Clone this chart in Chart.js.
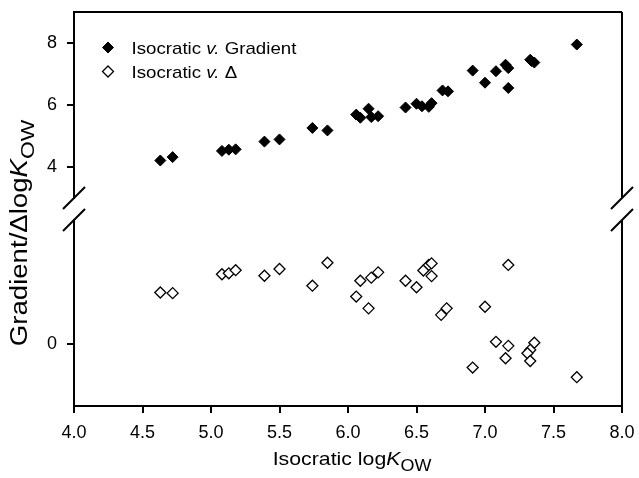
<!DOCTYPE html>
<html>
<head>
<meta charset="utf-8">
<script src="https://cdn.jsdelivr.net/npm/chart.js@4.4.0/dist/chart.umd.min.js"></script>
<style>
  html, body { margin: 0; padding: 0; background: #fff; }
  canvas { display: block; }
</style>
</head>
<body>
<canvas id="chart" width="639" height="478"></canvas>
<script>
// upper panel: isocratic log Kow vs. gradient log Kow
const gradientLogKow = [4.63, 4.72, 5.08, 5.13, 5.18, 5.39, 5.50, 5.74, 5.85, 6.06, 6.09,
  6.15, 6.17, 6.22, 6.42, 6.50, 6.54, 6.59, 6.61, 6.69, 6.73, 6.91, 7.00, 7.08, 7.15,
  7.17, 7.17, 7.33, 7.34, 7.36, 7.67];
const gradientValues = [4.21, 4.32, 4.52, 4.56, 4.57, 4.82, 4.89, 5.26, 5.18, 5.69, 5.59,
  5.88, 5.61, 5.64, 5.92, 6.04, 5.96, 5.94, 6.06, 6.47, 6.44, 7.11, 6.72, 7.09, 7.30,
  7.19, 6.55, 7.46, 7.42, 7.37, 7.95];

// lower panel: isocratic log Kow vs. delta log Kow
const deltaLogKow = [4.63, 4.72, 5.08, 5.13, 5.18, 5.39, 5.50, 5.74, 5.85, 6.06, 6.09,
  6.15, 6.17, 6.22, 6.42, 6.50, 6.55, 6.59, 6.61, 6.61, 6.68, 6.72, 6.91, 7.00, 7.08,
  7.15, 7.17, 7.17, 7.36, 7.33, 7.31, 7.33, 7.67];
const deltaValues = [1.66, 1.64, 2.25, 2.28, 2.38, 2.20, 2.42, 1.88, 2.62, 1.53, 2.04,
  1.15, 2.14, 2.31, 2.04, 1.83, 2.37, 2.55, 2.60, 2.19, 0.94, 1.15, -0.76, 1.20, 0.07,
  -0.46, 2.55, -0.06, 0.04, -0.19, -0.30, -0.55, -1.07];

const upperTicks = [4, 6, 8];
const lowerTicks = [0];

const FAMILY = "'Liberation Sans', Arial, Helvetica, sans-serif";
Chart.defaults.font.family = FAMILY;
Chart.defaults.color = "#000";

const toPoints = (xs, ys) => xs.map((x, i) => ({ x: x, y: ys[i] }));

const tickMarks = {
  drawOnChartArea: false,
  drawTicks: true,
  tickLength: 7,
  lineWidth: 2,
  color: "#000",
};
const axisLine = { display: true, width: 2, color: "#000" };
const tickFont = { size: 18 };

function fixWidth(scale) {
  scale.width = 74;
  scale.paddingTop = 0;
  scale.paddingBottom = 0;
}

// draws mixed-style text (italic K, subscripts), stretched a little to match the figure
function drawRuns(ctx, runs, x, y, align, stretch) {
  let total = 0;
  runs.forEach((r) => {
    ctx.font = r.font;
    r.w = ctx.measureText(r.text).width;
    total += r.w;
  });
  ctx.save();
  ctx.translate(x, y);
  ctx.scale(stretch || 1, 1);
  let cx = align === "center" ? -total / 2 : 0;
  runs.forEach((r) => {
    ctx.font = r.font;
    ctx.fillText(r.text, cx, r.dy || 0);
    cx += r.w;
  });
  ctx.restore();
}

// frame, axis breaks, axis titles and legend
const decorations = {
  id: "decorations",
  afterDraw(chart) {
    const ctx = chart.ctx;
    const area = chart.chartArea;
    const top = chart.scales.yUpper;
    const low = chart.scales.yLower;

    ctx.save();
    ctx.strokeStyle = "#000";
    ctx.lineWidth = 2;
    ctx.beginPath();
    ctx.moveTo(area.left - 1, area.top);
    ctx.lineTo(area.right, area.top);
    ctx.moveTo(area.right, area.top);
    ctx.lineTo(area.right, top.bottom);
    ctx.moveTo(area.right, low.top);
    ctx.lineTo(area.right, area.bottom + 1);
    [area.left, area.right].forEach((x) => {
      [top.bottom, low.top].forEach((y) => {
        ctx.moveTo(x - 11, y + 11);
        ctx.lineTo(x + 11, y - 11);
      });
    });
    ctx.stroke();

    ctx.fillStyle = "#000";
    ctx.textBaseline = "alphabetic";

    // x title
    drawRuns(ctx, [
      { text: "Isocratic log", font: "19px " + FAMILY },
      { text: "K", font: "italic 19px " + FAMILY },
      { text: "OW", font: "16px " + FAMILY, dy: 6 },
    ], 352, 465, "center", 1.12);

    // y title
    ctx.save();
    ctx.translate(27, 233);
    ctx.rotate(-Math.PI / 2);
    drawRuns(ctx, [
      { text: "Gradient/\u0394log", font: "23px " + FAMILY },
      { text: "K", font: "italic 23px " + FAMILY },
      { text: "OW", font: "19px " + FAMILY, dy: 7 },
    ], 0, 0, "center", 1.2);
    ctx.restore();

    // legend
    const rows = [
      { ds: 0, label: " Gradient", y: 47.5 },
      { ds: 1, label: " \u0394", y: 71.5 },
    ];
    rows.forEach((row) => {
      const ds = chart.data.datasets[row.ds];
      ctx.beginPath();
      ctx.moveTo(108, row.y - 5.5);
      ctx.lineTo(113.5, row.y);
      ctx.lineTo(108, row.y + 5.5);
      ctx.lineTo(102.5, row.y);
      ctx.closePath();
      ctx.fillStyle = ds.pointBackgroundColor;
      ctx.fill();
      ctx.lineWidth = ds.pointBorderWidth;
      ctx.strokeStyle = ds.pointBorderColor;
      ctx.stroke();
      ctx.fillStyle = "#000";
      drawRuns(ctx, [
        { text: "Isocratic ", font: "17px " + FAMILY },
        { text: "v.", font: "italic 17px " + FAMILY },
        { text: row.label, font: "17px " + FAMILY },
      ], 131.5, row.y + 6, "left", 1.1);
    });
    ctx.restore();
  },
};

new Chart(document.getElementById("chart"), {
  type: "scatter",
  data: {
    datasets: [
      {
        label: "Isocratic v. Gradient",
        data: toPoints(gradientLogKow, gradientValues),
        yAxisID: "yUpper",
        pointStyle: "rectRot",
        pointRadius: 5.5,
        pointHoverRadius: 5.5,
        pointBackgroundColor: "#000",
        pointBorderColor: "#000",
        pointBorderWidth: 1,
      },
      {
        label: "Isocratic v. \u0394",
        data: toPoints(deltaLogKow, deltaValues),
        yAxisID: "yLower",
        pointStyle: "rectRot",
        pointRadius: 5.5,
        pointHoverRadius: 5.5,
        pointBackgroundColor: "#fff",
        pointBorderColor: "#000",
        pointBorderWidth: 1.3,
      },
    ],
  },
  options: {
    responsive: false,
    animation: false,
    devicePixelRatio: 1,
    layout: { padding: { top: 12, right: 17, bottom: 0, left: 0 } },
    plugins: {
      legend: { display: false },
      tooltip: { enabled: false },
    },
    scales: {
      x: {
        type: "linear",
        min: 4,
        max: 8,
        grid: tickMarks,
        border: axisLine,
        ticks: {
          stepSize: 0.5,
          padding: 9,
          font: tickFont,
          callback: (v) => v.toFixed(1),
        },
        afterFit: (scale) => {
          scale.height = 72;
          scale.paddingLeft = 0;
          scale.paddingRight = 0;
        },
      },
      yLower: {
        type: "linear",
        position: "left",
        stack: "y",
        stackWeight: 1,
        min: -2,
        max: 4,
        grid: tickMarks,
        border: axisLine,
        ticks: { padding: 10, font: tickFont },
        afterBuildTicks: (scale) => {
          scale.ticks = lowerTicks.map((v) => ({ value: v }));
        },
        afterFit: fixWidth,
      },
      yGap: {
        type: "linear",
        position: "left",
        stack: "y",
        stackWeight: 0.118,
        grid: { display: false },
        border: { display: false },
        ticks: { display: false },
        afterFit: fixWidth,
      },
      yUpper: {
        type: "linear",
        position: "left",
        stack: "y",
        stackWeight: 1,
        min: 3,
        max: 9,
        grid: tickMarks,
        border: axisLine,
        ticks: { padding: 10, font: tickFont },
        afterBuildTicks: (scale) => {
          scale.ticks = upperTicks.map((v) => ({ value: v }));
        },
        afterFit: fixWidth,
      },
    },
  },
  plugins: [decorations],
});
</script>
</body>
</html>
